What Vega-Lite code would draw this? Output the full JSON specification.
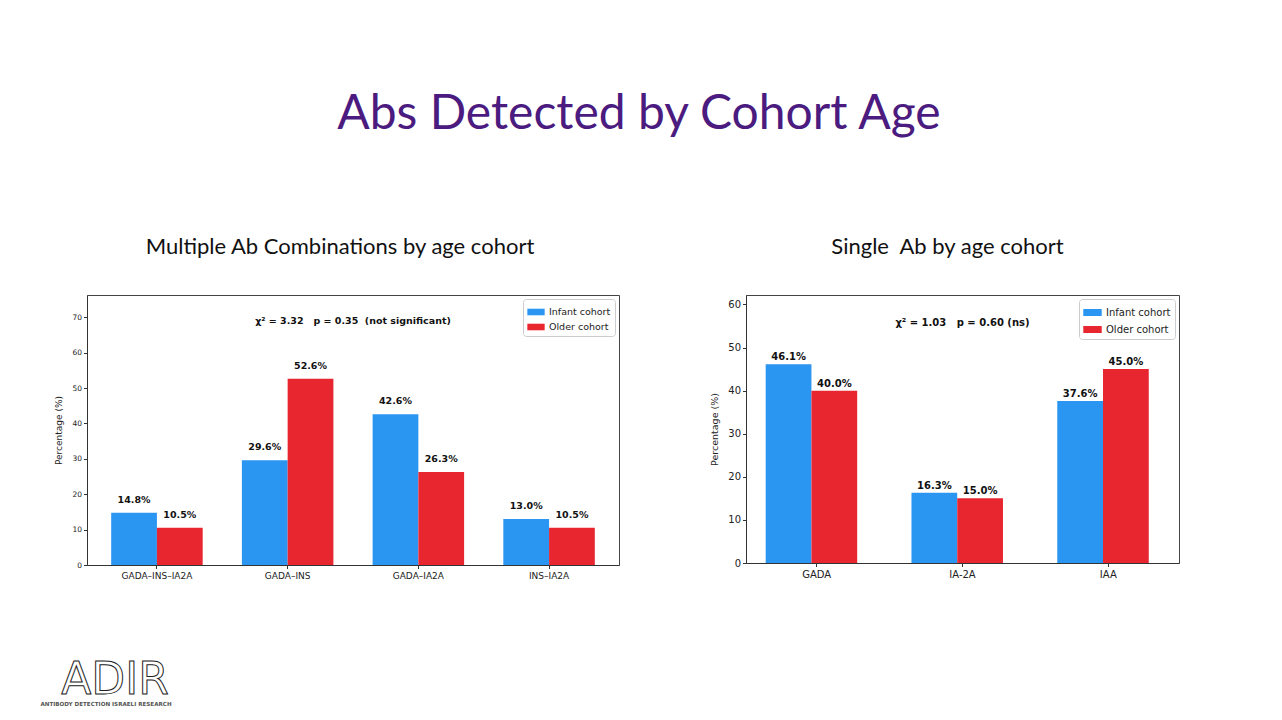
{
  "$schema": "https://vega.github.io/schema/vega-lite/v6.json",
  "background": "white",
  "padding": {"left": 40, "top": 90, "right": 0, "bottom": 0},
  "title": {
    "text": "Abs Detected by Cohort Age",
    "font": "Lato",
    "fontSize": 48,
    "fontWeight": "normal",
    "color": "#4b1b7f",
    "anchor": "middle",
    "dx": 29,
    "offset": 97
  },
  "config": {
    "font": "DejaVu Sans",
    "view": {"stroke": "#444", "strokeWidth": 1},
    "axis": {
      "domainColor": "#333",
      "tickColor": "#333",
      "labelColor": "#222",
      "titleColor": "#222",
      "labelFont": "DejaVu Sans",
      "titleFont": "DejaVu Sans",
      "titleFontWeight": "normal",
      "grid": false,
      "tickSize": 3.5
    },
    "legend": {
      "labelFont": "DejaVu Sans",
      "labelColor": "#222"
    }
  },
  "vconcat": [
    {
      "hconcat": [
        {
          "width": 532,
          "height": 270,
          "title": {
            "text": "Multiple Ab Combinations by age cohort",
            "font": "Lato",
            "fontSize": 22,
            "fontWeight": "normal",
            "color": "#111",
            "offset": 36,
            "dx": -13
          },
          "data": {
            "values": [
              {"combo": "GADA–INS–IA2A", "cohort": "Infant cohort", "pct": 14.8},
              {"combo": "GADA–INS–IA2A", "cohort": "Older cohort", "pct": 10.5},
              {"combo": "GADA–INS", "cohort": "Infant cohort", "pct": 29.6},
              {"combo": "GADA–INS", "cohort": "Older cohort", "pct": 52.6},
              {"combo": "GADA–IA2A", "cohort": "Infant cohort", "pct": 42.6},
              {"combo": "GADA–IA2A", "cohort": "Older cohort", "pct": 26.3},
              {"combo": "INS–IA2A", "cohort": "Infant cohort", "pct": 13.0},
              {"combo": "INS–IA2A", "cohort": "Older cohort", "pct": 10.5}
            ]
          },
          "layer": [
            {
              "transform": [{"calculate": "format(datum.pct, '.1f') + '%'", "as": "label"}],
              "encoding": {
                "x": {
                  "field": "combo",
                  "type": "nominal",
                  "sort": null,
                  "title": null,
                  "scale": {"paddingInner": 0.3, "paddingOuter": 0.185},
                  "axis": {"labelAngle": 0, "labelFontSize": 9, "labelPadding": 3}
                },
                "xOffset": {"field": "cohort", "type": "nominal", "sort": ["Infant cohort", "Older cohort"]},
                "y": {
                  "field": "pct",
                  "type": "quantitative",
                  "scale": {"domain": [0, 76.3], "nice": false},
                  "axis": {
                    "values": [0, 10, 20, 30, 40, 50, 60, 70],
                    "labelOverlap": false,
                    "title": "Percentage (%)",
                    "titleFontSize": 9,
                    "labelFontSize": 7.5,
                    "titlePadding": 8
                  }
                }
              },
              "layer": [
                {
                  "mark": {"type": "bar"},
                  "encoding": {
                    "color": {
                      "field": "cohort",
                      "type": "nominal",
                      "scale": {"domain": ["Infant cohort", "Older cohort"], "range": ["#2b95f2", "#e8262f"]},
                      "legend": {
                        "title": null,
                        "orient": "top-right",
                        "offset": 4,
                        "padding": 4,
                        "fillColor": "white",
                        "strokeColor": "#cccccc",
                        "cornerRadius": 3,
                        "labelFontSize": 9.5,
                        "rowPadding": 1,
                        "symbolType": "M-1,-0.38L1,-0.38L1,0.38L-1,0.38Z",
                        "symbolSize": 300,
                        "symbolStrokeWidth": 0,
                        "symbolOpacity": 1
                      }
                    }
                  }
                },
                {
                  "mark": {"type": "text", "baseline": "bottom", "dy": -8, "fontWeight": "bold", "fontSize": 9.5, "color": "#111"},
                  "encoding": {"text": {"field": "label"}}
                }
              ]
            },
            {
              "data": {"values": [{"note": "χ² = 3.32\u00a0\u00a0\u00a0p = 0.35\u00a0\u00a0(not significant)"}]},
              "mark": {"type": "text", "fontWeight": "bold", "fontSize": 9.5, "color": "#111", "baseline": "middle"},
              "encoding": {
                "x": {"datum": 0.5, "type": "quantitative", "scale": {"domain": [0, 1]}, "axis": null},
                "y": {
                  "datum": 68.9,
                  "type": "quantitative",
                  "axis": {
                    "values": [0, 10, 20, 30, 40, 50, 60, 70],
                    "labelOverlap": false,
                    "title": "Percentage (%)",
                    "titleFontSize": 9,
                    "labelFontSize": 7.5,
                    "titlePadding": 8
                  }
                },
                "text": {"field": "note"}
              }
            }
          ],
          "resolve": {"scale": {"x": "independent"}}
        },
        {
          "width": 433,
          "height": 268,
          "title": {
            "text": "Single\u00a0\u00a0Ab by age cohort",
            "font": "Lato",
            "fontSize": 22,
            "fontWeight": "normal",
            "color": "#111",
            "offset": 36,
            "dx": -15
          },
          "data": {
            "values": [
              {"ab": "GADA", "cohort": "Infant cohort", "pct": 46.1},
              {"ab": "GADA", "cohort": "Older cohort", "pct": 40.0},
              {"ab": "IA-2A", "cohort": "Infant cohort", "pct": 16.3},
              {"ab": "IA-2A", "cohort": "Older cohort", "pct": 15.0},
              {"ab": "IAA", "cohort": "Infant cohort", "pct": 37.6},
              {"ab": "IAA", "cohort": "Older cohort", "pct": 45.0}
            ]
          },
          "layer": [
            {
              "transform": [{"calculate": "format(datum.pct, '.1f') + '%'", "as": "label"}],
              "encoding": {
                "x": {
                  "field": "ab",
                  "type": "nominal",
                  "sort": null,
                  "title": null,
                  "scale": {"paddingInner": 0.3, "paddingOuter": 0.135},
                  "axis": {"labelAngle": 0, "labelFontSize": 10, "labelPadding": 3}
                },
                "xOffset": {"field": "cohort", "type": "nominal", "sort": ["Infant cohort", "Older cohort"]},
                "y": {
                  "field": "pct",
                  "type": "quantitative",
                  "scale": {"domain": [0, 62.2], "nice": false},
                  "axis": {
                    "values": [0, 10, 20, 30, 40, 50, 60],
                    "labelOverlap": false,
                    "title": "Percentage (%)",
                    "titleFontSize": 9.5,
                    "labelFontSize": 10,
                    "titlePadding": 8
                  }
                }
              },
              "layer": [
                {
                  "mark": {"type": "bar"},
                  "encoding": {
                    "color": {
                      "field": "cohort",
                      "type": "nominal",
                      "scale": {"domain": ["Infant cohort", "Older cohort"], "range": ["#2b95f2", "#e8262f"]},
                      "legend": {
                        "title": null,
                        "orient": "top-right",
                        "offset": 4,
                        "padding": 4,
                        "fillColor": "white",
                        "strokeColor": "#cccccc",
                        "cornerRadius": 3,
                        "labelFontSize": 10,
                        "rowPadding": 2,
                        "symbolType": "M-1,-0.38L1,-0.38L1,0.38L-1,0.38Z",
                        "symbolSize": 340,
                        "symbolStrokeWidth": 0,
                        "symbolOpacity": 1
                      }
                    }
                  }
                },
                {
                  "mark": {"type": "text", "baseline": "bottom", "dy": -2, "fontWeight": "bold", "fontSize": 10, "color": "#111"},
                  "encoding": {"text": {"field": "label"}}
                }
              ]
            },
            {
              "data": {"values": [{"note": "χ² = 1.03\u00a0\u00a0\u00a0p = 0.60 (ns)"}]},
              "mark": {"type": "text", "fontWeight": "bold", "fontSize": 10, "color": "#111", "baseline": "middle"},
              "encoding": {
                "x": {"datum": 0.5, "type": "quantitative", "scale": {"domain": [0, 1]}, "axis": null},
                "y": {
                  "datum": 55.8,
                  "type": "quantitative",
                  "axis": {
                    "values": [0, 10, 20, 30, 40, 50, 60],
                    "labelOverlap": false,
                    "title": "Percentage (%)",
                    "titleFontSize": 9.5,
                    "labelFontSize": 10,
                    "titlePadding": 8
                  }
                },
                "text": {"field": "note"}
              }
            }
          ],
          "resolve": {"scale": {"x": "independent"}}
        }
      ],
      "spacing": 89,
      "resolve": {"scale": {"color": "independent"}, "legend": {"color": "independent"}}
    },
    {
      "width": 132,
      "height": 44,
      "view": {"stroke": null},
      "data": {"values": [{"brand": "ADIR", "tagline": "ANTIBODY DETECTION ISRAELI RESEARCH"}]},
      "layer": [
        {
          "mark": {"type": "text", "font": "DejaVu Sans", "fontSize": 44, "fill": null, "stroke": "#222", "strokeWidth": 1, "baseline": "alphabetic", "dy": 10, "dx": -38},
          "encoding": {"text": {"field": "brand"}}
        },
        {
          "mark": {"type": "text", "font": "DejaVu Sans", "fontSize": 5.6, "fontWeight": "bold", "color": "#555", "baseline": "alphabetic", "dy": 22, "dx": -47},
          "encoding": {"text": {"field": "tagline"}}
        }
      ]
    }
  ],
  "spacing": 78
}
